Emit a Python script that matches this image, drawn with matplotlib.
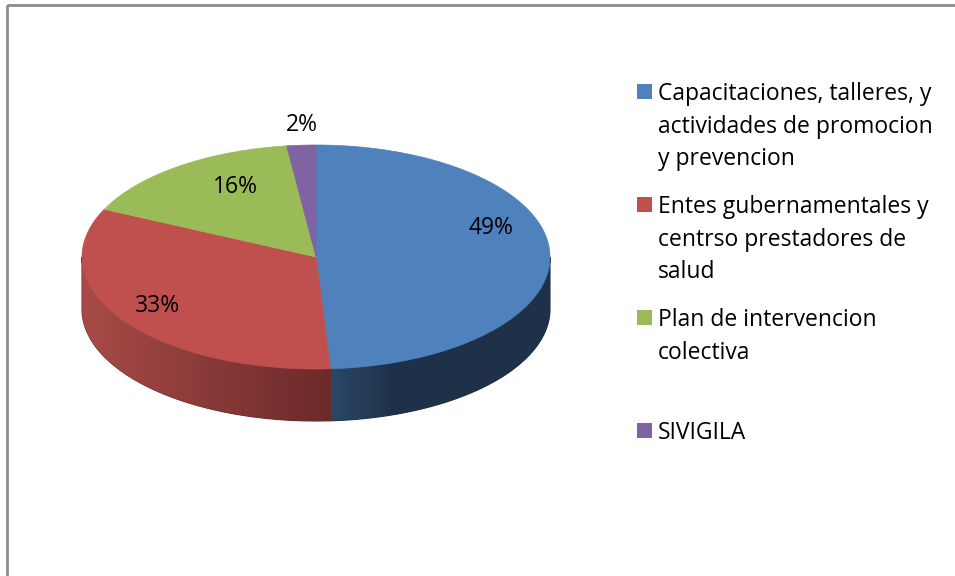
import numpy as np
import matplotlib
matplotlib.use("Agg")
import matplotlib.pyplot as plt
from matplotlib.patches import Polygon, Rectangle
from matplotlib.colors import LinearSegmentedColormap

# data
labels = ["Capacitaciones, talleres, y\nactividades de promocion\ny prevencion",
          "Entes gubernamentales y\ncentrso prestadores de\nsalud",
          "Plan de intervencion\ncolectiva",
          "SIVIGILA"]
values = [49, 33, 16, 2]
colors = ["#4F81BD", "#C0504D", "#9BBB59", "#8064A2"]
side_colors = [("#2B4768", "#1F3149"), ("#A84B48", "#6B2A29"),
               ("#6F8A3C", "#5A7030"), ("#5C4878", "#4A3A62")]

plt.rcParams['font.family'] = ['Open Sans', 'DejaVu Sans']

fig = plt.figure(figsize=(9.55, 5.76), dpi=100)
ax = fig.add_axes([0, 0, 1, 1])
ax.set_xlim(0, 955)
ax.set_ylim(576, 0)
ax.axis("off")

# outer frame of the chart area
ax.add_patch(Rectangle((7, 5), 1000, 1000, fill=False, edgecolor="#8c8c8c", lw=2))

# pie geometry (pixels)
cx, cy, rx, ry, depth = 316, 257, 234, 112, 52

def ell(t):
    return cx + rx * np.cos(t), cy - ry * np.sin(t)

total = sum(values)
angles = [90.0]
for v in values:
    angles.append(angles[-1] - 360.0 * v / total)

# side walls (only the front half is visible)
for i in range(len(values)):
    a1, a2 = angles[i + 1], angles[i]
    lo, hi = max(a1, -180), min(a2, 0)
    if hi <= lo:
        continue
    t = np.radians(np.linspace(lo, hi, 200))
    xt, yt = ell(t)
    pts = np.concatenate([np.column_stack([xt, yt]),
                          np.column_stack([xt[::-1], yt[::-1] + depth])])
    poly = Polygon(pts, closed=True, facecolor=side_colors[i][1],
                   edgecolor=side_colors[i][1], lw=0.8, zorder=0.5)
    ax.add_patch(poly)
    x0, x1 = xt.min(), xt.max()
    cmap = LinearSegmentedColormap.from_list("s%d" % i, side_colors[i])
    if i == 0:
        grad = np.clip(np.linspace(0, 1, 256) * 3.5, 0, 1)[None, :]
    else:
        grad = np.linspace(0, 1, 256)[None, :]
    im = ax.imshow(grad, cmap=cmap, extent=[x0, x1, yt.max() + depth, yt.min()],
                   aspect="auto", interpolation="bilinear", zorder=1)
    im.set_clip_path(poly)

# top face
for i in range(len(values)):
    t = np.radians(np.linspace(angles[i], angles[i + 1], 300))
    xt, yt = ell(t)
    pts = np.concatenate([[[cx, cy]], np.column_stack([xt, yt])])
    ax.add_patch(Polygon(pts, closed=True, facecolor=colors[i],
                         edgecolor=colors[i], lw=0.5, zorder=2))

# percentage labels
frac = [0.75, 0.78, 0.72, 1.2]
nudge = [(0, -26), (-8, 0), (18, -5), (4, 2)]
for i, v in enumerate(values):
    mid = np.radians((angles[i] + angles[i + 1]) / 2)
    lx = cx + rx * frac[i] * np.cos(mid) + nudge[i][0]
    ly = cy - ry * frac[i] * np.sin(mid) + nudge[i][1]
    ax.text(lx, ly, "%d%%" % v, ha="center", va="center", fontsize=16.5,
            color="black", zorder=3)

# legend, entries spread evenly like the original
for i, lab in enumerate(labels):
    y = 84 + i * 113
    ax.add_patch(Rectangle((637, y), 15, 15, facecolor=colors[i], edgecolor="none"))
    ax.text(658, y - 2, lab, ha="left", va="top", fontsize=16.5,
            linespacing=1.48, color="black")

fig.savefig("out.png", dpi=100)
